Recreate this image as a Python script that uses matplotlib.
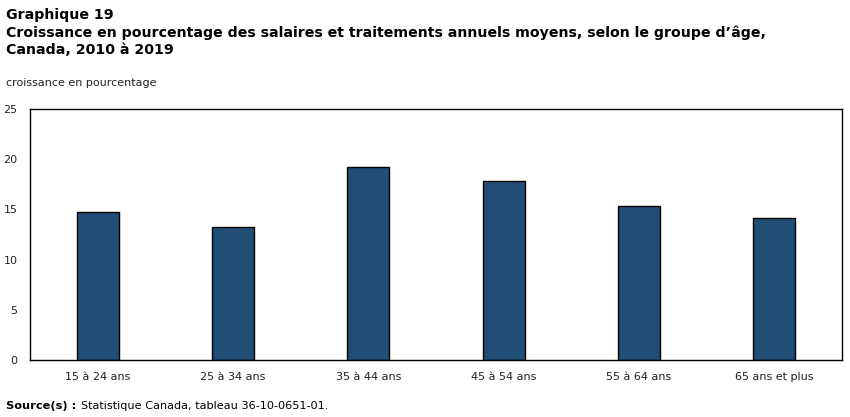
import numpy as np
import matplotlib.pyplot as plt

# Données (Graphique 19)
groupes = ["15 à 24 ans", "25 à 34 ans", "35 à 44 ans",
           "45 à 54 ans", "55 à 64 ans", "65 ans et plus"]
croissance = [14.7, 13.2, 19.2, 17.8, 15.3, 14.1]

W, H = 850, 417
fig = plt.figure(figsize=(W / 100, H / 100), dpi=100)
plt.rcParams['font.family'] = ['DejaVu Sans']

# zone du graphique (en pixels)
left, right, top, bottom = 30, 842, 109, 360
ax = fig.add_axes([left / W, 1 - bottom / H, (right - left) / W, (bottom - top) / H])

x = np.arange(len(groupes))
ax.bar(x, croissance, width=0.31, color="#224e76", edgecolor="black", linewidth=1)

ax.set_xlim(-0.5, len(groupes) - 0.5)
ax.set_ylim(0, 25)
ax.set_yticks([0, 5, 10, 15, 20, 25])
ax.set_xticks(x)
ax.set_xticklabels(groupes)
ax.tick_params(axis="both", length=0, labelsize=8, colors="#222222")
ax.tick_params(axis="x", pad=9)
ax.tick_params(axis="y", pad=9)
for s in ax.spines.values():
    s.set_color("black")
    s.set_linewidth(1)

# titres et notes
tsize = 10.2
fig.text(6 / W, 1 - 19 / H, "Graphique 19", fontsize=tsize, fontweight="bold", va="baseline")
fig.text(6 / W, 1 - 36.5 / H,
         "Croissance en pourcentage des salaires et traitements annuels moyens, selon le groupe d’âge,",
         fontsize=tsize, fontweight="bold", va="baseline")
fig.text(6 / W, 1 - 54 / H, "Canada, 2010 à 2019", fontsize=tsize, fontweight="bold", va="baseline")
fig.text(6 / W, 1 - 86 / H, "croissance en pourcentage", fontsize=8, va="baseline", color="#222222")
fig.text(6 / W, 1 - 409 / H, "Source(s) :", fontsize=8.2, fontweight="bold", va="baseline")
fig.text(81 / W, 1 - 409 / H, "Statistique Canada, tableau 36-10-0651-01.", fontsize=8.1, va="baseline")

fig.savefig("out.png", dpi=100)
